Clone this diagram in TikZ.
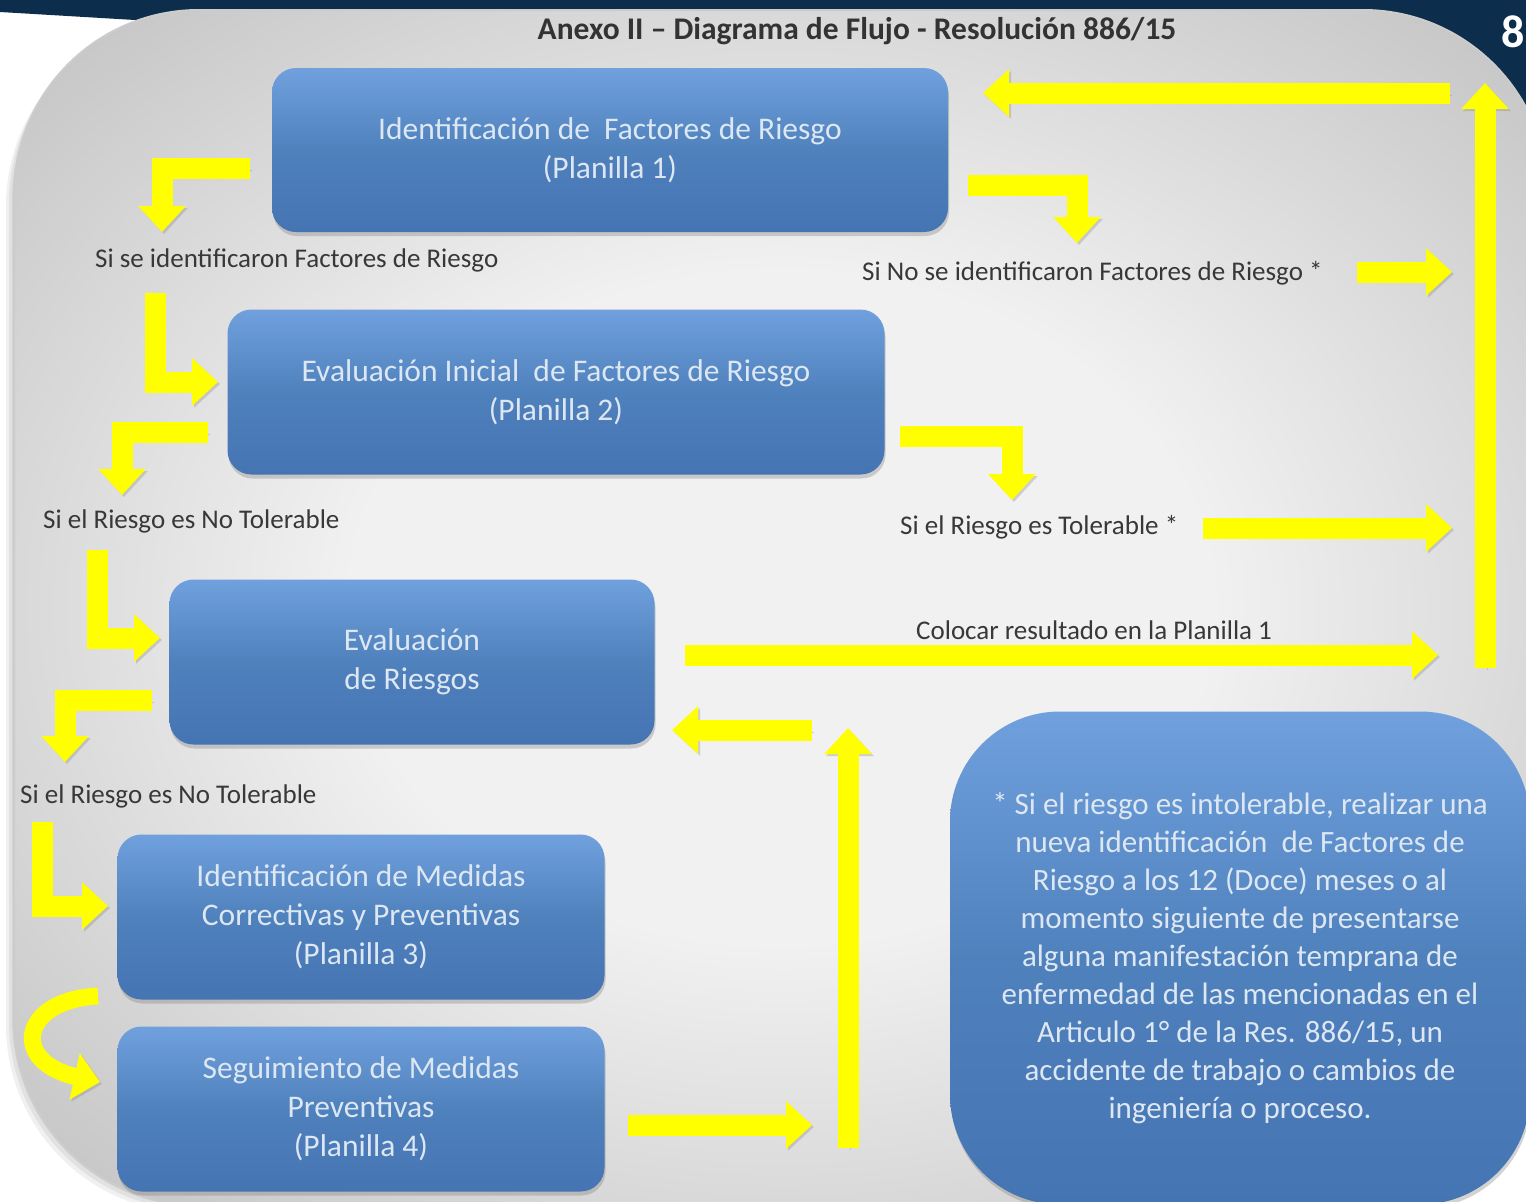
\documentclass[tikz,border=0pt]{standalone}
\usepackage{fontspec}
\setmainfont{Carlito}
\usetikzlibrary{positioning,arrows.meta,shadows}
\definecolor{navy}{HTML}{0C2D4C}
\definecolor{boxblue}{HTML}{4F81BD}
\definecolor{boxhigh}{HTML}{70A1DE}
\definecolor{boxlow}{HTML}{4574B2}
\definecolor{boxtext}{HTML}{DDE7F2}
\definecolor{labeltext}{HTML}{383838}
\definecolor{arrowyellow}{HTML}{FFFF00}
\definecolor{panelin}{HTML}{F1F1F1}
\definecolor{panelout}{HTML}{A8A8A8}
\pgfdeclareradialshading{panelshade}{\pgfpoint{0bp}{0bp}}{color(0bp)=(panelin); color(14bp)=(panelin); color(47bp)=(panelout); color(72bp)=(panelout)}

\begin{document}
\begin{tikzpicture}[x=1pt,y=-1pt,
stage/.style={rounded corners=24pt,top color=boxhigh,bottom color=boxlow,middle color=boxblue,text=boxtext,align=center,font=\fontsize{31.5}{39}\selectfont,inner sep=0pt,drop shadow={shadow xshift=1pt,shadow yshift=-4pt,opacity=.35}},
cond/.style={anchor=west,text=labeltext,font=\fontsize{27}{30}\selectfont,inner sep=0pt},
yarrow/.style={draw=arrowyellow,line width=21pt,-{Triangle[width=46pt,length=26pt]},preaction={draw=black!50,opacity=.3,transform canvas={shift={(2pt,-2pt)}}}}]
\clip (0,0) rectangle (1526,1202);
\fill[white] (0,0) rectangle (1526,1202);
\fill[navy] (0,0) -- (1526,0) -- (1526,106) -- (1400,106) -- (1400,60) -- (300,60) -- (135,20) -- (0,12) -- cycle;
\node[font=\bfseries\fontsize{46}{46}\selectfont,text=white,anchor=east,inner sep=0pt] (pagenum) at (1525,32) {8};
% panel
\foreach \d in {2,5,8}{\fill[black,opacity=.06,rounded corners=188pt] (14-\d,10+\d) rectangle (1548,1205+\d);}
\shade[shading=panelshade,rounded corners=185pt,draw=white!80!black,line width=2pt] (14,10) rectangle (1548,1205);
\node[font=\bfseries\fontsize{31.5}{34}\selectfont,text=black!80] (title) at (857,31) {Anexo II – Diagrama de Flujo - Resolución 886/15};
% steps
\node[stage,minimum width=676pt,minimum height=164pt] (ident) at (610,150) {Identificación de~ Factores de Riesgo\\(Planilla 1)};
\node[stage,minimum width=657pt,minimum height=165pt] (evalini) at (556,392) {Evaluación Inicial~ de Factores de Riesgo\\(Planilla 2)};
\node[stage,minimum width=485pt,minimum height=165pt] (evalriesgo) at (412,662) {Evaluación\\de Riesgos};
\node[stage,minimum width=487pt,minimum height=165pt] (medidas) at (361,917) {Identificación de Medidas\\Correctivas y Preventivas\\(Planilla 3)};
\node[stage,minimum width=487pt,minimum height=165pt] (seguim) at (361,1109) {Seguimiento de Medidas\\Preventivas\\(Planilla 4)};
\node[stage,rounded corners=110pt,minimum width=580pt,minimum height=493pt,font=\fontsize{31}{38}\selectfont] (nota) at (1240,958) {* Si el riesgo es intolerable, realizar una\\nueva identificación~ de Factores de\\Riesgo a los 12 (Doce) meses o al\\momento siguiente de presentarse\\alguna manifestación temprana de\\enfermedad de las mencionadas en el\\Articulo 1° de la Res. 886/15, un\\accidente de trabajo o cambios de\\ingeniería o proceso.};
% conditions
\node[cond] (siident) at (95,260) {Si se identificaron Factores de Riesgo};
\node[cond] (noident) at (862,273) {Si No se identificaron Factores de Riesgo *};
\node[cond] (notol) at (43,521) {Si el Riesgo es No Tolerable};
\node[cond] (tol) at (900,527) {Si el Riesgo es Tolerable *};
\node[cond] (colocar) at (916,630) {Colocar resultado en la Planilla 1};
\node[cond] (notolb) at (20,796) {Si el Riesgo es No Tolerable};
% arrows
\foreach \n/\px/\py in {s1/250/168,t1/162/232,s2/155/293,t2/218/382,s3/208/432,t3/122/495,s4/97/550,t4/160/638,s5/152/700,t5/65/762,s6/42/822,t6/108/906,s8/1450/93,t8/983/93,s9/1485/668,t9/1485/83,s10/968/185,t10/1077/243,s11/1357/272,t11/1452/272,s12/900/436,t12/1012/500,s13/1203/528,t13/1452/528,s14/685/655,t14/1438/655,s15/812/730,t15/672/730,s16/848/1148,t16/848/728,s17/628/1125,t17/812/1125,s7/98/996,t7/100/1082}{\coordinate (\n) at (\px,\py);}
\foreach \a/\b in {s1/t1,s3/t3,s5/t5,s10/t10,s12/t12}{\draw[yarrow] (\a) -| (\b);}
\foreach \a/\b in {s2/t2,s4/t4,s6/t6}{\draw[yarrow] (\a) |- (\b);}
\foreach \a/\b in {s8/t8,s9/t9,s11/t11,s13/t13,s14/t14,s15/t15,s16/t16,s17/t17}{\draw[yarrow] (\a) -- (\b);}
\draw[yarrow,line width=17pt] (s7) .. controls (20,1000) and (10,1062) .. (t7);
\end{tikzpicture}
\end{document}
